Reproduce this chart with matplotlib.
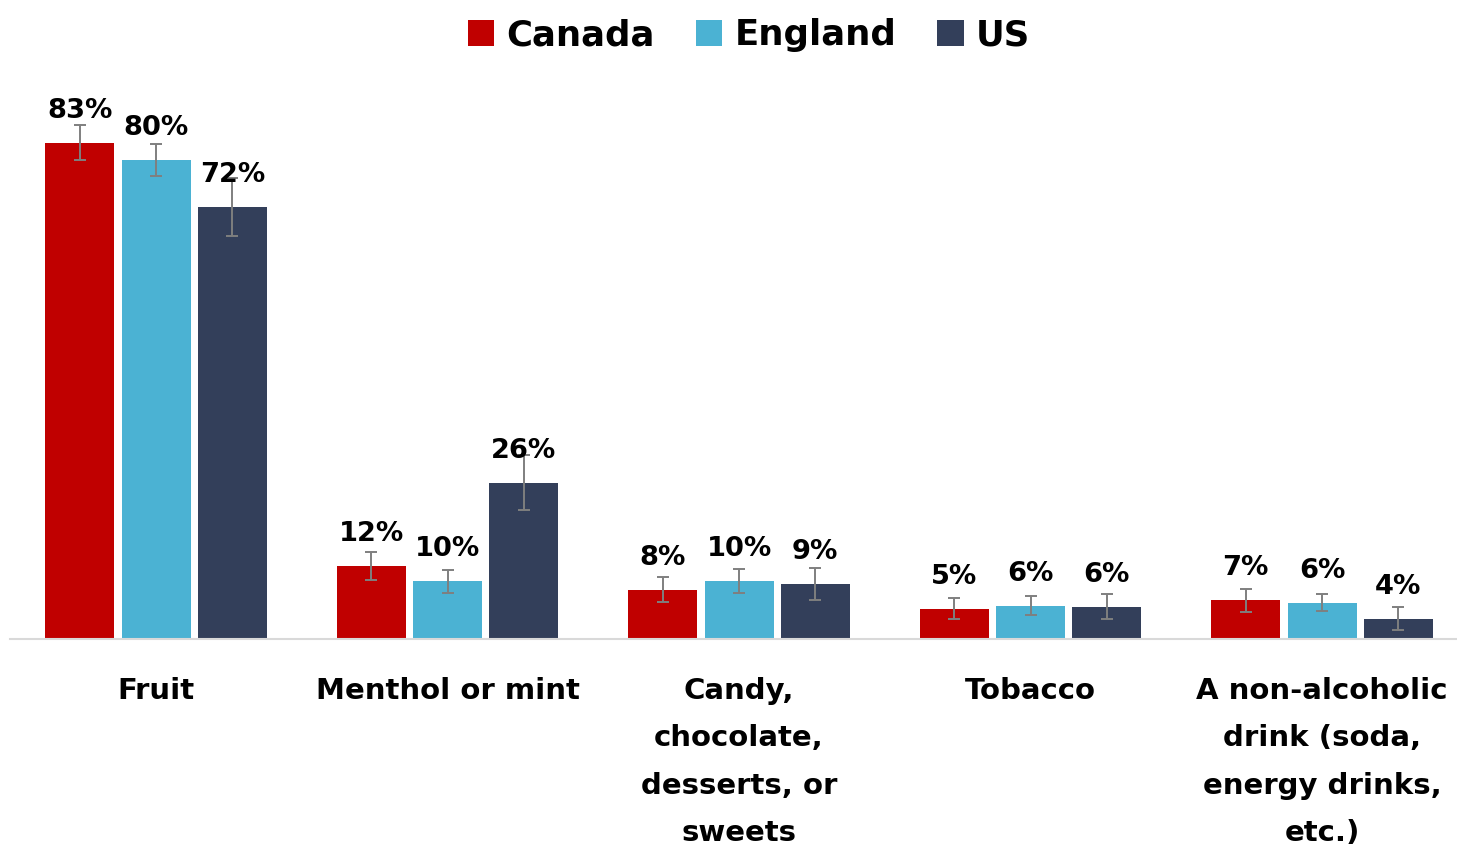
import matplotlib
matplotlib.use("Agg")
import matplotlib.pyplot as plt
import numpy as np

categories = ["Fruit", "Menthol or mint", "Candy,\nchocolate,\ndesserts, or\nsweets",
              "Tobacco", "A non-alcoholic\ndrink (soda,\nenergy drinks,\netc.)"]
series = ["Canada", "England", "US"]
canada = [83.0, 12.3, 8.3, 5.1, 6.5]
england = [80.1, 9.7, 9.8, 5.6, 6.1]
us = [72.2, 26.2, 9.25, 5.45, 3.4]
canada_err = [2.96, 2.34, 2.09, 1.72, 1.95]
england_err = [2.72, 1.95, 2.0, 1.56, 1.42]
us_err = [4.85, 4.57, 2.73, 2.06, 1.92]
canada_labels = ["83%", "12%", "8%", "5%", "7%"]
england_labels = ["80%", "10%", "10%", "6%", "6%"]
us_labels = ["72%", "26%", "9%", "6%", "4%"]
colors = ["#C00000", "#4BB2D3", "#333F5A"]

plt.rcParams['font.family'] = ['DejaVu Sans']

W, H = 1457, 848
fig = plt.figure(figsize=(W / 100, H / 100), dpi=100)
left_px = 10.25
base_px = 639.3
top_px = 60
group_px = 291.5
ax = fig.add_axes([left_px / W, (H - base_px) / H, (W - left_px) / W, (base_px - top_px) / H])
ax.set_xlim(-0.5, -0.5 + (W - left_px) / group_px)
ax.set_ylim(0, (base_px - top_px) / 5.983)

x = np.arange(len(categories))
offset = 76.3 / group_px
width = 69 / group_px
all_vals = [canada, england, us]
all_err = [canada_err, england_err, us_err]
all_lab = [canada_labels, england_labels, us_labels]
for i, (vals, errs, labs) in enumerate(zip(all_vals, all_err, all_lab)):
    xs = x + (i - 1) * offset
    ax.bar(xs, vals, width, color=colors[i], label=series[i], zorder=2)
    ax.errorbar(xs, vals, yerr=errs, fmt='none', ecolor='#7F7F7F', elinewidth=1.4,
                capsize=4.5, capthick=1.4, zorder=3)
    for xi, v, lb in zip(xs, vals, labs):
        ax.annotate(lb, (xi, v), xytext=(0, 18), textcoords='offset points',
                    ha='center', va='baseline', fontsize=19.6, fontweight='bold',
                    color='black', zorder=4)

for s in ['top', 'right', 'left']:
    ax.spines[s].set_visible(False)
ax.spines['bottom'].set_color('#D9D9D9')
ax.spines['bottom'].set_linewidth(1.5)
ax.set_yticks([])
ax.set_xticks(x)
ax.set_xticklabels(categories, fontsize=21, fontweight='bold', linespacing=1.88)
ax.tick_params(axis='x', length=0, pad=27)

leg = fig.legend(loc='center', bbox_to_anchor=(749 / W, 1 - 35 / H), ncol=3,
                 frameon=False, prop={'weight': 'bold', 'size': 25.6},
                 handlelength=0.75, handleheight=0.75, handletextpad=0.34,
                 columnspacing=1.15, borderpad=0, borderaxespad=0)

fig.savefig("out.png", dpi=100)
